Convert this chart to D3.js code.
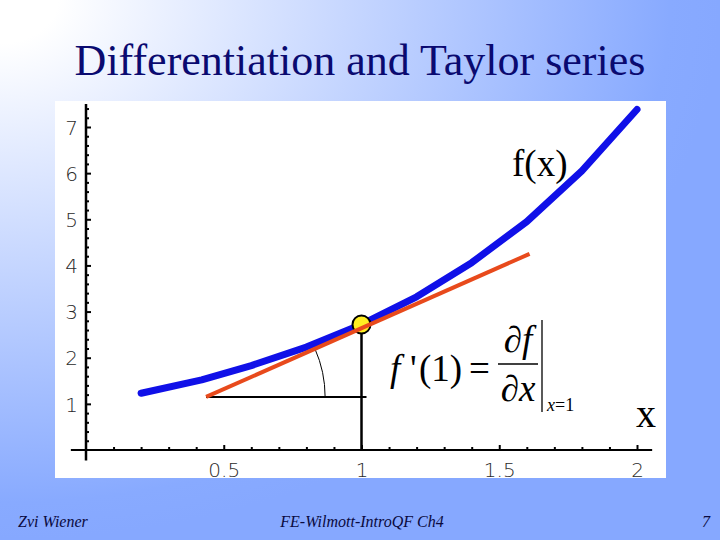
<!DOCTYPE html>
<html>
<head>
<meta charset="utf-8">
<script src="https://cdn.jsdelivr.net/npm/d3@7"></script>
<style>
html,body{margin:0;padding:0;background:#fff;}
svg{display:block;}
.serif{font-family:"Liberation Serif","Times New Roman","DejaVu Serif",serif;}
.tick text{font-family:"DejaVu Sans",sans-serif;}
</style>
</head>
<body>
<svg id="chart" width="720" height="540"></svg>
<script>
// ---- data ----
const titleText = "Differentiation and Taylor series";
const curveX = [0.2, 0.42, 0.6, 0.8, 1.0, 1.2, 1.4, 1.6, 1.8, 2.0];
const curveY = [1.23, 1.52, 1.83, 2.23, 2.72, 3.32, 4.06, 4.95, 6.05, 7.38];
const tangentX = [0.436, 1.61];
const tangentY = [1.15, 4.25];
const pointX = 1.0;
const pointY = 2.72;
const xMajorTicks = [0.5, 1, 1.5, 2];
const xMinorTicks = d3.range(1, 21).map(i => i / 10).filter(v => Math.abs(v * 2 - Math.round(v * 2)) > 1e-9);
const yMajorTicks = [1, 2, 3, 4, 5, 6, 7];
const yMinorTicks = d3.range(1, 38).map(i => i / 5).filter(v => Math.abs(v - Math.round(v)) > 1e-9);
const footerLeft = "Zvi Wiener";
const footerCenter = "FE-Wilmott-IntroQF Ch4";
const footerRight = "7";

const svg = d3.select("#chart");
const W = 720, H = 540;

// background gradient
const defs = svg.append("defs");
const grad = defs.append("radialGradient").attr("id", "bg")
  .attr("cx", 0).attr("cy", 0).attr("r", 1).attr("fx", 0).attr("fy", 0)
  .attr("gradientUnits", "objectBoundingBox");
grad.append("stop").attr("offset", "0.08").attr("stop-color", "#ffffff");
grad.append("stop").attr("offset", "0.93").attr("stop-color", "#88aaff");
grad.append("stop").attr("offset", "1").attr("stop-color", "#86a8ff");
svg.append("rect").attr("width", W).attr("height", H).attr("fill", "url(#bg)");

// title
svg.append("text").attr("class", "serif").attr("x", 360).attr("y", 75).attr("text-anchor", "middle")
  .attr("font-size", 44).attr("fill", "#0a0a70").text(titleText);

// plot panel
svg.append("rect").attr("x", 55).attr("y", 101).attr("width", 611).attr("height", 377).attr("fill", "#ffffff");

// scales
const x = d3.scaleLinear().domain([0, 2]).range([86, 637]);
const y = d3.scaleLinear().domain([0, 7]).range([450, 127]);

// axes lines (extending slightly beyond origin)
svg.append("line").attr("x1", x(-0.055)).attr("x2", x(2.055)).attr("y1", y(0)).attr("y2", y(0))
  .attr("stroke", "#000").attr("stroke-width", 2);
svg.append("line").attr("x1", x(0)).attr("x2", x(0)).attr("y1", y(-0.23)).attr("y2", y(7.5))
  .attr("stroke", "#000").attr("stroke-width", 2.5);

// x axis ticks
const gxMinor = svg.append("g").attr("transform", `translate(0,${y(0)})`)
  .call(d3.axisBottom(x).tickValues(xMinorTicks).tickFormat("").tickSize(-3));
const gx = svg.append("g").attr("transform", `translate(0,${y(0)})`)
  .call(d3.axisBottom(x).tickValues(xMajorTicks).tickFormat(d3.format("")).tickSize(-5).tickPadding(13));
// y axis ticks
const gyMinor = svg.append("g").attr("transform", `translate(${x(0)},0)`)
  .call(d3.axisLeft(y).tickValues(yMinorTicks).tickFormat("").tickSize(-3));
const gy = svg.append("g").attr("transform", `translate(${x(0)},0)`)
  .call(d3.axisLeft(y).tickValues(yMajorTicks).tickFormat(d3.format("d")).tickSize(-5).tickPadding(8));
[gxMinor, gx, gyMinor, gy].forEach(g => {
  g.attr("font-family", null);
  g.select(".domain").remove();
  g.selectAll(".tick line").attr("stroke", "#000").attr("stroke-width", 2);
  g.selectAll("text").attr("font-weight", 300)
    .attr("font-size", 20).attr("fill", "#2a2a2a");
});
gy.selectAll("text").attr("dy", "0.36em");

// helper lines: horizontal, vertical
svg.append("line").attr("x1", x(tangentX[0])).attr("x2", x(pointX) + 5)
  .attr("y1", y(tangentY[0])).attr("y2", y(tangentY[0]))
  .attr("stroke", "#000").attr("stroke-width", 2);
svg.append("line").attr("x1", x(pointX)).attr("x2", x(pointX))
  .attr("y1", y(0)).attr("y2", y(pointY))
  .attr("stroke", "#000").attr("stroke-width", 2.5);

// angle arc
const cx0 = x(tangentX[0]), cy0 = y(tangentY[0]);
const ang = Math.atan2(y(tangentY[1]) - cy0, x(tangentX[1]) - cx0);
const p = d3.path();
const rArc = 119;
p.moveTo(cx0 + rArc, cy0);
p.arc(cx0, cy0, rArc, 0, ang, true);
svg.append("path").attr("d", p.toString()).attr("fill", "none").attr("stroke", "#000").attr("stroke-width", 1);

// curve
const line = d3.line().x(d => x(d[0])).y(d => y(d[1]));
svg.append("path").datum(d3.zip(curveX, curveY)).attr("d", line)
  .attr("fill", "none").attr("stroke", "#1010e8").attr("stroke-width", 7)
  .attr("stroke-linecap", "round").attr("stroke-linejoin", "round");

// point
svg.append("circle").attr("cx", x(pointX)).attr("cy", y(pointY)).attr("r", 9)
  .attr("fill", "#ffee22").attr("stroke", "#000").attr("stroke-width", 2);

// tangent
svg.append("path").datum(d3.zip(tangentX, tangentY)).attr("d", line)
  .attr("fill", "none").attr("stroke", "#e84a1c").attr("stroke-width", 4);

// labels
svg.append("text").attr("class", "serif").attr("x", 512).attr("y", 176)
  .attr("font-size", 37).attr("fill", "#000").text("f(x)");
svg.append("text").attr("class", "serif").attr("x", 636).attr("y", 427)
  .attr("font-size", 40).attr("fill", "#000").text("x");

// formula
const fs = 37;
svg.append("text").attr("class", "serif").attr("x", 390).attr("y", 381)
  .attr("font-size", fs).attr("font-style", "italic").attr("fill", "#000").text("f");
svg.append("text").attr("class", "serif").attr("x", 410).attr("y", 381)
  .attr("font-size", fs).attr("fill", "#000").text("'");
svg.append("text").attr("class", "serif").attr("x", 419).attr("y", 381)
  .attr("font-size", fs).attr("fill", "#000").text("(1)");
svg.append("text").attr("class", "serif").attr("x", 469).attr("y", 381)
  .attr("font-size", fs).attr("fill", "#000").text("=");
svg.append("text").attr("class", "serif").attr("x", 518).attr("y", 352).attr("text-anchor", "middle")
  .attr("font-size", fs).attr("font-style", "italic").attr("fill", "#000").text("\u2202f");
svg.append("line").attr("x1", 498).attr("x2", 538).attr("y1", 364).attr("y2", 364)
  .attr("stroke", "#000").attr("stroke-width", 1.3);
svg.append("text").attr("class", "serif").attr("x", 518).attr("y", 401).attr("text-anchor", "middle")
  .attr("font-size", fs).attr("font-style", "italic").attr("fill", "#000").text("\u2202x");
svg.append("line").attr("x1", 542).attr("x2", 542).attr("y1", 320).attr("y2", 412)
  .attr("stroke", "#000").attr("stroke-width", 1.3);
const sub = svg.append("text").attr("class", "serif").attr("x", 547).attr("y", 411)
  .attr("font-size", 18).attr("fill", "#000");
sub.append("tspan").attr("font-style", "italic").text("x");
sub.append("tspan").text("=1");

// footer
svg.append("text").attr("class", "serif").attr("x", 18).attr("y", 527).attr("font-style", "italic")
  .attr("font-size", 16).attr("fill", "#0a0a40").text(footerLeft);
svg.append("text").attr("class", "serif").attr("x", 362).attr("y", 527).attr("text-anchor", "middle")
  .attr("font-style", "italic").attr("font-size", 16).attr("fill", "#0a0a40").text(footerCenter);
svg.append("text").attr("class", "serif").attr("x", 710).attr("y", 527).attr("text-anchor", "end")
  .attr("font-style", "italic").attr("font-size", 16).attr("fill", "#0a0a40").text(footerRight);
</script>
</body>
</html>
